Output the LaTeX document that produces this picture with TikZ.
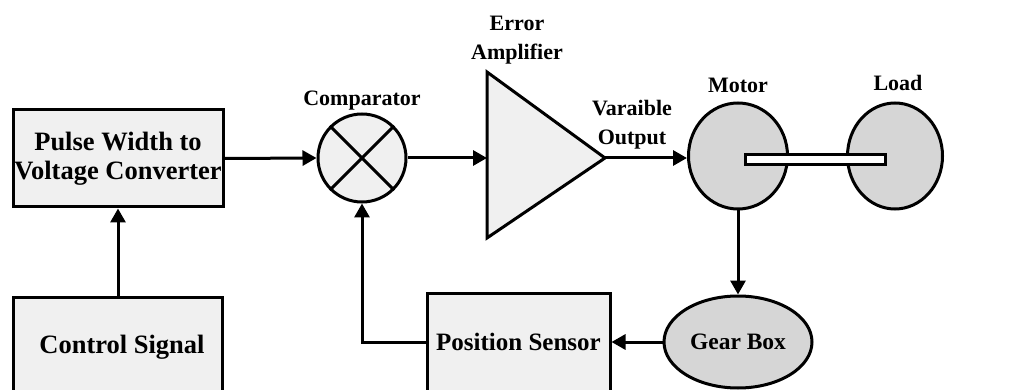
\documentclass[tikz,border=0pt]{standalone}
\usepackage{fontspec}
\setmainfont{Liberation Serif}
\usetikzlibrary{arrows.meta,shapes.geometric}
\definecolor{boxfill}{HTML}{F0F0F0}
\definecolor{discfill}{HTML}{D6D6D6}
\tikzset{
  blk/.style={draw=black,line width=3pt,fill=boxfill,inner sep=0pt,font=\bfseries\fontsize{26.5}{29}\selectfont,align=center},
  disc/.style={draw=black,line width=3pt,fill=discfill,ellipse,inner sep=0pt},
  lbl/.style={font=\bfseries\fontsize{22}{29}\selectfont,align=center,inner sep=0pt},
  conn/.style={line width=3pt,-{Triangle[length=14pt,width=15pt]}},
}
\begin{document}
\begin{tikzpicture}[x=1pt,y=-1pt]
\clip (0,0) rectangle (1020,390);
\fill[white] (0,0) rectangle (1020,390);
% blocks
\node[blk,minimum width=210,minimum height=97] (pw) at (118,158.5) {Pulse Width to\\Voltage Converter};
\node[blk,minimum width=209,minimum height=98] (cs) at (118,346) {};
\node[font=\bfseries\fontsize{26.5}{29}\selectfont] (cstxt) at (122,347) {Control Signal};
\node[blk,minimum width=183,minimum height=98,font=\bfseries\fontsize{25}{28}\selectfont] (ps) at (518.5,342) {Position Sensor};
% comparator
\node[draw=black,line width=3pt,fill=boxfill,circle,minimum size=88,inner sep=0pt] (cmp) at (362,158) {};
\draw[line width=3pt] (cmp.45) -- (cmp.225) (cmp.135) -- (cmp.-45);
\node[lbl] (cmplbl) at (362,101) {Comparator};
% amplifier
\coordinate (ampL) at (487,158);
\coordinate (ampT) at (487,72);
\coordinate (ampB) at (487,238);
\coordinate (tip) at (605,158);
\draw[line width=3pt,fill=boxfill,line join=miter] (ampT) -- (tip) -- (ampB) -- cycle;
\node[lbl] (amplbl) at (517,40) {Error\\Amplifier};
\node[lbl] (outlbl) at (632,125) {Varaible\\Output};
% motor and load
\node[disc,minimum width=99,minimum height=106] (motor) at (738,156) {};
\node[disc,minimum width=95,minimum height=106] (load) at (895,156) {};
\node[draw=black,line width=3pt,fill=white,minimum width=140,minimum height=10,inner sep=0pt] (shaft) at (815,160) {};
\node[lbl] (motorlbl) at (738,85) {Motor};
\node[lbl] (loadlbl) at (898,83) {Load};
% gear box
\node[disc,minimum width=148,minimum height=92,font=\bfseries\fontsize{23.5}{27}\selectfont] (gear) at (738,342) {Gear Box};
% connectors
\draw[conn] (cs.north) -- (pw.south);
\draw[conn] (pw.east) -- (cmp.west);
\draw[conn] (cmp.east) -- (ampL);
\draw[conn] (tip) -- (tip -| motor.west);
\draw[conn] (motor.south) -- (gear.north);
\draw[conn] (gear.west) -- (ps.east);
\draw[conn] (ps.west) -| (cmp.south);
\end{tikzpicture}
\end{document}
